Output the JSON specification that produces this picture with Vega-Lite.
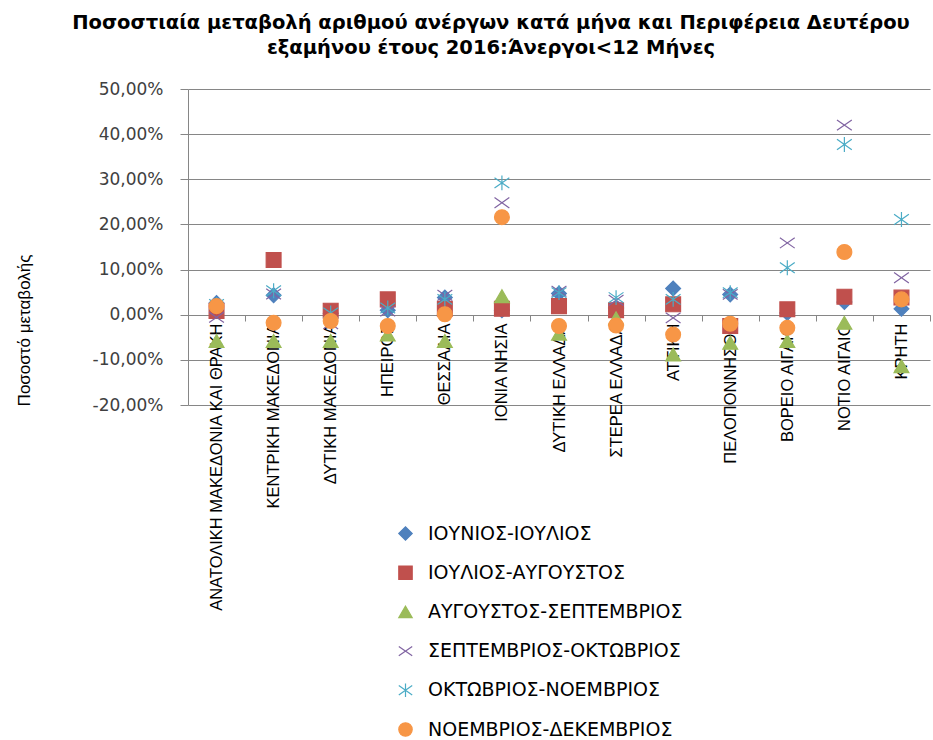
{
  "$schema": "https://vega.github.io/schema/vega-lite/v6.json",
  "width": 742,
  "height": 316,
  "autosize": {"type": "none"},
  "padding": {"left": 188, "top": 89, "right": 3, "bottom": 335},
  "background": "white",
  "title": {
    "text": ["Ποσοστιαία μεταβολή αριθμού ανέργων κατά μήνα και Περιφέρεια Δευτέρου", "εξαμήνου έτους 2016:Άνεργοι<12 Μήνες"],
    "font": "DejaVu Sans",
    "fontSize": 19.5,
    "fontWeight": "bold",
    "color": "#000000",
    "anchor": "middle",
    "dx": -68,
    "offset": 22,
    "lineHeight": 25
  },
  "data": {
    "values": [
      {"region": "ΑΝΑΤΟΛΙΚΗ ΜΑΚΕΔΟΝΙΑ ΚΑΙ ΘΡΑΚΗ", "series": "ΙΟΥΝΙΟΣ-ΙΟΥΛΙΟΣ", "value": 0.026},
      {"region": "ΚΕΝΤΡΙΚΗ ΜΑΚΕΔΟΝΙΑ", "series": "ΙΟΥΝΙΟΣ-ΙΟΥΛΙΟΣ", "value": 0.043},
      {"region": "ΔΥΤΙΚΗ ΜΑΚΕΔΟΝΙΑ", "series": "ΙΟΥΝΙΟΣ-ΙΟΥΛΙΟΣ", "value": 0.003},
      {"region": "ΗΠΕΙΡΟΣ", "series": "ΙΟΥΝΙΟΣ-ΙΟΥΛΙΟΣ", "value": 0.010},
      {"region": "ΘΕΣΣΑΛΙΑ", "series": "ΙΟΥΝΙΟΣ-ΙΟΥΛΙΟΣ", "value": 0.038},
      {"region": "ΙΟΝΙΑ ΝΗΣΙΑ", "series": "ΙΟΥΝΙΟΣ-ΙΟΥΛΙΟΣ", "value": 0.010},
      {"region": "ΔΥΤΙΚΗ ΕΛΛΑΔΑ", "series": "ΙΟΥΝΙΟΣ-ΙΟΥΛΙΟΣ", "value": 0.047},
      {"region": "ΣΤΕΡΕΑ ΕΛΛΑΔΑ", "series": "ΙΟΥΝΙΟΣ-ΙΟΥΛΙΟΣ", "value": 0.015},
      {"region": "ΑΤΤΙΚΗ", "series": "ΙΟΥΝΙΟΣ-ΙΟΥΛΙΟΣ", "value": 0.058},
      {"region": "ΠΕΛΟΠΟΝΝΗΣΟΣ", "series": "ΙΟΥΝΙΟΣ-ΙΟΥΛΙΟΣ", "value": 0.045},
      {"region": "ΒΟΡΕΙΟ ΑΙΓΑΙΟ", "series": "ΙΟΥΝΙΟΣ-ΙΟΥΛΙΟΣ", "value": 0.004},
      {"region": "ΝΟΤΙΟ ΑΙΓΑΙΟ", "series": "ΙΟΥΝΙΟΣ-ΙΟΥΛΙΟΣ", "value": 0.028},
      {"region": "ΚΡΗΤΗ", "series": "ΙΟΥΝΙΟΣ-ΙΟΥΛΙΟΣ", "value": 0.013},
      {"region": "ΑΝΑΤΟΛΙΚΗ ΜΑΚΕΔΟΝΙΑ ΚΑΙ ΘΡΑΚΗ", "series": "ΙΟΥΛΙΟΣ-ΑΥΓΟΥΣΤΟΣ", "value": 0.008},
      {"region": "ΚΕΝΤΡΙΚΗ ΜΑΚΕΔΟΝΙΑ", "series": "ΙΟΥΛΙΟΣ-ΑΥΓΟΥΣΤΟΣ", "value": 0.121},
      {"region": "ΔΥΤΙΚΗ ΜΑΚΕΔΟΝΙΑ", "series": "ΙΟΥΛΙΟΣ-ΑΥΓΟΥΣΤΟΣ", "value": 0.009},
      {"region": "ΗΠΕΙΡΟΣ", "series": "ΙΟΥΛΙΟΣ-ΑΥΓΟΥΣΤΟΣ", "value": 0.034},
      {"region": "ΘΕΣΣΑΛΙΑ", "series": "ΙΟΥΛΙΟΣ-ΑΥΓΟΥΣΤΟΣ", "value": 0.013},
      {"region": "ΙΟΝΙΑ ΝΗΣΙΑ", "series": "ΙΟΥΛΙΟΣ-ΑΥΓΟΥΣΤΟΣ", "value": 0.013},
      {"region": "ΔΥΤΙΚΗ ΕΛΛΑΔΑ", "series": "ΙΟΥΛΙΟΣ-ΑΥΓΟΥΣΤΟΣ", "value": 0.019},
      {"region": "ΣΤΕΡΕΑ ΕΛΛΑΔΑ", "series": "ΙΟΥΛΙΟΣ-ΑΥΓΟΥΣΤΟΣ", "value": 0.010},
      {"region": "ΑΤΤΙΚΗ", "series": "ΙΟΥΛΙΟΣ-ΑΥΓΟΥΣΤΟΣ", "value": 0.023},
      {"region": "ΠΕΛΟΠΟΝΝΗΣΟΣ", "series": "ΙΟΥΛΙΟΣ-ΑΥΓΟΥΣΤΟΣ", "value": -0.025},
      {"region": "ΒΟΡΕΙΟ ΑΙΓΑΙΟ", "series": "ΙΟΥΛΙΟΣ-ΑΥΓΟΥΣΤΟΣ", "value": 0.012},
      {"region": "ΝΟΤΙΟ ΑΙΓΑΙΟ", "series": "ΙΟΥΛΙΟΣ-ΑΥΓΟΥΣΤΟΣ", "value": 0.040},
      {"region": "ΚΡΗΤΗ", "series": "ΙΟΥΛΙΟΣ-ΑΥΓΟΥΣΤΟΣ", "value": 0.038},
      {"region": "ΑΝΑΤΟΛΙΚΗ ΜΑΚΕΔΟΝΙΑ ΚΑΙ ΘΡΑΚΗ", "series": "ΑΥΓΟΥΣΤΟΣ-ΣΕΠΤΕΜΒΡΙΟΣ", "value": -0.058},
      {"region": "ΚΕΝΤΡΙΚΗ ΜΑΚΕΔΟΝΙΑ", "series": "ΑΥΓΟΥΣΤΟΣ-ΣΕΠΤΕΜΒΡΙΟΣ", "value": -0.058},
      {"region": "ΔΥΤΙΚΗ ΜΑΚΕΔΟΝΙΑ", "series": "ΑΥΓΟΥΣΤΟΣ-ΣΕΠΤΕΜΒΡΙΟΣ", "value": -0.058},
      {"region": "ΗΠΕΙΡΟΣ", "series": "ΑΥΓΟΥΣΤΟΣ-ΣΕΠΤΕΜΒΡΙΟΣ", "value": -0.044},
      {"region": "ΘΕΣΣΑΛΙΑ", "series": "ΑΥΓΟΥΣΤΟΣ-ΣΕΠΤΕΜΒΡΙΟΣ", "value": -0.058},
      {"region": "ΙΟΝΙΑ ΝΗΣΙΑ", "series": "ΑΥΓΟΥΣΤΟΣ-ΣΕΠΤΕΜΒΡΙΟΣ", "value": 0.041},
      {"region": "ΔΥΤΙΚΗ ΕΛΛΑΔΑ", "series": "ΑΥΓΟΥΣΤΟΣ-ΣΕΠΤΕΜΒΡΙΟΣ", "value": -0.042},
      {"region": "ΣΤΕΡΕΑ ΕΛΛΑΔΑ", "series": "ΑΥΓΟΥΣΤΟΣ-ΣΕΠΤΕΜΒΡΙΟΣ", "value": -0.008},
      {"region": "ΑΤΤΙΚΗ", "series": "ΑΥΓΟΥΣΤΟΣ-ΣΕΠΤΕΜΒΡΙΟΣ", "value": -0.088},
      {"region": "ΠΕΛΟΠΟΝΝΗΣΟΣ", "series": "ΑΥΓΟΥΣΤΟΣ-ΣΕΠΤΕΜΒΡΙΟΣ", "value": -0.062},
      {"region": "ΒΟΡΕΙΟ ΑΙΓΑΙΟ", "series": "ΑΥΓΟΥΣΤΟΣ-ΣΕΠΤΕΜΒΡΙΟΣ", "value": -0.058},
      {"region": "ΝΟΤΙΟ ΑΙΓΑΙΟ", "series": "ΑΥΓΟΥΣΤΟΣ-ΣΕΠΤΕΜΒΡΙΟΣ", "value": -0.018},
      {"region": "ΚΡΗΤΗ", "series": "ΑΥΓΟΥΣΤΟΣ-ΣΕΠΤΕΜΒΡΙΟΣ", "value": -0.114},
      {"region": "ΑΝΑΤΟΛΙΚΗ ΜΑΚΕΔΟΝΙΑ ΚΑΙ ΘΡΑΚΗ", "series": "ΣΕΠΤΕΜΒΡΙΟΣ-ΟΚΤΩΒΡΙΟΣ", "value": -0.006},
      {"region": "ΚΕΝΤΡΙΚΗ ΜΑΚΕΔΟΝΙΑ", "series": "ΣΕΠΤΕΜΒΡΙΟΣ-ΟΚΤΩΒΡΙΟΣ", "value": 0.046},
      {"region": "ΔΥΤΙΚΗ ΜΑΚΕΔΟΝΙΑ", "series": "ΣΕΠΤΕΜΒΡΙΟΣ-ΟΚΤΩΒΡΙΟΣ", "value": -0.020},
      {"region": "ΗΠΕΙΡΟΣ", "series": "ΣΕΠΤΕΜΒΡΙΟΣ-ΟΚΤΩΒΡΙΟΣ", "value": 0.008},
      {"region": "ΘΕΣΣΑΛΙΑ", "series": "ΣΕΠΤΕΜΒΡΙΟΣ-ΟΚΤΩΒΡΙΟΣ", "value": 0.043},
      {"region": "ΙΟΝΙΑ ΝΗΣΙΑ", "series": "ΣΕΠΤΕΜΒΡΙΟΣ-ΟΚΤΩΒΡΙΟΣ", "value": 0.248},
      {"region": "ΔΥΤΙΚΗ ΕΛΛΑΔΑ", "series": "ΣΕΠΤΕΜΒΡΙΟΣ-ΟΚΤΩΒΡΙΟΣ", "value": 0.052},
      {"region": "ΣΤΕΡΕΑ ΕΛΛΑΔΑ", "series": "ΣΕΠΤΕΜΒΡΙΟΣ-ΟΚΤΩΒΡΙΟΣ", "value": 0.032},
      {"region": "ΑΤΤΙΚΗ", "series": "ΣΕΠΤΕΜΒΡΙΟΣ-ΟΚΤΩΒΡΙΟΣ", "value": -0.007},
      {"region": "ΠΕΛΟΠΟΝΝΗΣΟΣ", "series": "ΣΕΠΤΕΜΒΡΙΟΣ-ΟΚΤΩΒΡΙΟΣ", "value": 0.045},
      {"region": "ΒΟΡΕΙΟ ΑΙΓΑΙΟ", "series": "ΣΕΠΤΕΜΒΡΙΟΣ-ΟΚΤΩΒΡΙΟΣ", "value": 0.159},
      {"region": "ΝΟΤΙΟ ΑΙΓΑΙΟ", "series": "ΣΕΠΤΕΜΒΡΙΟΣ-ΟΚΤΩΒΡΙΟΣ", "value": 0.420},
      {"region": "ΚΡΗΤΗ", "series": "ΣΕΠΤΕΜΒΡΙΟΣ-ΟΚΤΩΒΡΙΟΣ", "value": 0.082},
      {"region": "ΑΝΑΤΟΛΙΚΗ ΜΑΚΕΔΟΝΙΑ ΚΑΙ ΘΡΑΚΗ", "series": "ΟΚΤΩΒΡΙΟΣ-ΝΟΕΜΒΡΙΟΣ", "value": 0.023},
      {"region": "ΚΕΝΤΡΙΚΗ ΜΑΚΕΔΟΝΙΑ", "series": "ΟΚΤΩΒΡΙΟΣ-ΝΟΕΜΒΡΙΟΣ", "value": 0.053},
      {"region": "ΔΥΤΙΚΗ ΜΑΚΕΔΟΝΙΑ", "series": "ΟΚΤΩΒΡΙΟΣ-ΝΟΕΜΒΡΙΟΣ", "value": 0.004},
      {"region": "ΗΠΕΙΡΟΣ", "series": "ΟΚΤΩΒΡΙΟΣ-ΝΟΕΜΒΡΙΟΣ", "value": 0.015},
      {"region": "ΘΕΣΣΑΛΙΑ", "series": "ΟΚΤΩΒΡΙΟΣ-ΝΟΕΜΒΡΙΟΣ", "value": 0.034},
      {"region": "ΙΟΝΙΑ ΝΗΣΙΑ", "series": "ΟΚΤΩΒΡΙΟΣ-ΝΟΕΜΒΡΙΟΣ", "value": 0.292},
      {"region": "ΔΥΤΙΚΗ ΕΛΛΑΔΑ", "series": "ΟΚΤΩΒΡΙΟΣ-ΝΟΕΜΒΡΙΟΣ", "value": 0.049},
      {"region": "ΣΤΕΡΕΑ ΕΛΛΑΔΑ", "series": "ΟΚΤΩΒΡΙΟΣ-ΝΟΕΜΒΡΙΟΣ", "value": 0.038},
      {"region": "ΑΤΤΙΚΗ", "series": "ΟΚΤΩΒΡΙΟΣ-ΝΟΕΜΒΡΙΟΣ", "value": 0.034},
      {"region": "ΠΕΛΟΠΟΝΝΗΣΟΣ", "series": "ΟΚΤΩΒΡΙΟΣ-ΝΟΕΜΒΡΙΟΣ", "value": 0.049},
      {"region": "ΒΟΡΕΙΟ ΑΙΓΑΙΟ", "series": "ΟΚΤΩΒΡΙΟΣ-ΝΟΕΜΒΡΙΟΣ", "value": 0.104},
      {"region": "ΝΟΤΙΟ ΑΙΓΑΙΟ", "series": "ΟΚΤΩΒΡΙΟΣ-ΝΟΕΜΒΡΙΟΣ", "value": 0.377},
      {"region": "ΚΡΗΤΗ", "series": "ΟΚΤΩΒΡΙΟΣ-ΝΟΕΜΒΡΙΟΣ", "value": 0.211},
      {"region": "ΑΝΑΤΟΛΙΚΗ ΜΑΚΕΔΟΝΙΑ ΚΑΙ ΘΡΑΚΗ", "series": "ΝΟΕΜΒΡΙΟΣ-ΔΕΚΕΜΒΡΙΟΣ", "value": 0.019},
      {"region": "ΚΕΝΤΡΙΚΗ ΜΑΚΕΔΟΝΙΑ", "series": "ΝΟΕΜΒΡΙΟΣ-ΔΕΚΕΜΒΡΙΟΣ", "value": -0.018},
      {"region": "ΔΥΤΙΚΗ ΜΑΚΕΔΟΝΙΑ", "series": "ΝΟΕΜΒΡΙΟΣ-ΔΕΚΕΜΒΡΙΟΣ", "value": -0.014},
      {"region": "ΗΠΕΙΡΟΣ", "series": "ΝΟΕΜΒΡΙΟΣ-ΔΕΚΕΜΒΡΙΟΣ", "value": -0.025},
      {"region": "ΘΕΣΣΑΛΙΑ", "series": "ΝΟΕΜΒΡΙΟΣ-ΔΕΚΕΜΒΡΙΟΣ", "value": 0.001},
      {"region": "ΙΟΝΙΑ ΝΗΣΙΑ", "series": "ΝΟΕΜΒΡΙΟΣ-ΔΕΚΕΜΒΡΙΟΣ", "value": 0.216},
      {"region": "ΔΥΤΙΚΗ ΕΛΛΑΔΑ", "series": "ΝΟΕΜΒΡΙΟΣ-ΔΕΚΕΜΒΡΙΟΣ", "value": -0.025},
      {"region": "ΣΤΕΡΕΑ ΕΛΛΑΔΑ", "series": "ΝΟΕΜΒΡΙΟΣ-ΔΕΚΕΜΒΡΙΟΣ", "value": -0.024},
      {"region": "ΑΤΤΙΚΗ", "series": "ΝΟΕΜΒΡΙΟΣ-ΔΕΚΕΜΒΡΙΟΣ", "value": -0.044},
      {"region": "ΠΕΛΟΠΟΝΝΗΣΟΣ", "series": "ΝΟΕΜΒΡΙΟΣ-ΔΕΚΕΜΒΡΙΟΣ", "value": -0.020},
      {"region": "ΒΟΡΕΙΟ ΑΙΓΑΙΟ", "series": "ΝΟΕΜΒΡΙΟΣ-ΔΕΚΕΜΒΡΙΟΣ", "value": -0.029},
      {"region": "ΝΟΤΙΟ ΑΙΓΑΙΟ", "series": "ΝΟΕΜΒΡΙΟΣ-ΔΕΚΕΜΒΡΙΟΣ", "value": 0.139},
      {"region": "ΚΡΗΤΗ", "series": "ΝΟΕΜΒΡΙΟΣ-ΔΕΚΕΜΒΡΙΟΣ", "value": 0.034}
    ]
  },
  "mark": {"type": "point", "filled": true, "opacity": 1, "size": 220, "strokeWidth": 1.2},
  "encoding": {
    "x": {
      "field": "region",
      "type": "nominal",
      "sort": null,
      "scale": {"paddingInner": 0, "paddingOuter": 0},
      "axis": {
        "title": null,
        "offset": -90,
        "labelAngle": -90,
        "labelAlign": "right",
        "labelBaseline": "middle",
        "labelFont": "Liberation Sans",
        "labelFontSize": 16.5,
        "labelColor": "#000000",
        "labelLimit": 400,
        "labelPadding": 2,
        "tickBand": "extent",
        "tickSize": 6,
        "tickColor": "#868686",
        "domainColor": "#868686",
        "grid": false
      }
    },
    "y": {
      "field": "value",
      "type": "quantitative",
      "scale": {"domain": [-0.2, 0.5], "nice": false, "zero": false},
      "axis": {
        "title": "Ποσοστό μεταβολής",
        "titleFont": "Liberation Sans",
        "titleFontSize": 17,
        "titleFontWeight": "normal",
        "titleColor": "#000000",
        "titleX": -164,
        "titleY": 241,
        "titleAngle": -90,
        "titleAlign": "center",
        "titleBaseline": "middle",
        "values": [-0.2, -0.1, 0, 0.1, 0.2, 0.3, 0.4, 0.5],
        "labelExpr": "replace(replace(format(datum.value, '.2%'), '.', ','), '−', '-')",
        "labelFont": "DejaVu Sans",
        "labelFontSize": 17,
        "labelColor": "#404040",
        "labelPadding": 17,
        "tickSize": 8,
        "tickColor": "#868686",
        "domainColor": "#868686",
        "gridColor": "#868686",
        "grid": true
      }
    },
    "shape": {
      "field": "series",
      "type": "nominal",
      "sort": null,
      "scale": {
        "domain": ["ΙΟΥΝΙΟΣ-ΙΟΥΛΙΟΣ", "ΙΟΥΛΙΟΣ-ΑΥΓΟΥΣΤΟΣ", "ΑΥΓΟΥΣΤΟΣ-ΣΕΠΤΕΜΒΡΙΟΣ", "ΣΕΠΤΕΜΒΡΙΟΣ-ΟΚΤΩΒΡΙΟΣ", "ΟΚΤΩΒΡΙΟΣ-ΝΟΕΜΒΡΙΟΣ", "ΝΟΕΜΒΡΙΟΣ-ΔΕΚΕΜΒΡΙΟΣ"],
        "range": ["diamond", "square", "triangle-up", "M-1,-0.7L1,0.7M-1,0.7L1,-0.7", "M-1,-0.7L1,0.7M-1,0.7L1,-0.7M0,-1L0,1", "circle"]
      },
      "legend": {
        "orient": "none",
        "legendX": 208,
        "legendY": 435,
        "title": null,
        "labelFont": "DejaVu Sans",
        "labelFontSize": 19,
        "labelColor": "#000000",
        "labelOffset": 13,
        "symbolSize": 180,
        "symbolStrokeWidth": 1.2,
        "rowPadding": 19.2,
        "labelLimit": 400
      }
    },
    "fill": {
      "field": "series",
      "type": "nominal",
      "sort": null,
      "scale": {
        "domain": ["ΙΟΥΝΙΟΣ-ΙΟΥΛΙΟΣ", "ΙΟΥΛΙΟΣ-ΑΥΓΟΥΣΤΟΣ", "ΑΥΓΟΥΣΤΟΣ-ΣΕΠΤΕΜΒΡΙΟΣ", "ΣΕΠΤΕΜΒΡΙΟΣ-ΟΚΤΩΒΡΙΟΣ", "ΟΚΤΩΒΡΙΟΣ-ΝΟΕΜΒΡΙΟΣ", "ΝΟΕΜΒΡΙΟΣ-ΔΕΚΕΜΒΡΙΟΣ"],
        "range": ["#4F81BD", "#C0504D", "#9BBB59", "#8064A2", "#4BACC6", "#F79646"]
      }
    },
    "stroke": {
      "field": "series",
      "type": "nominal",
      "sort": null,
      "scale": {
        "domain": ["ΙΟΥΝΙΟΣ-ΙΟΥΛΙΟΣ", "ΙΟΥΛΙΟΣ-ΑΥΓΟΥΣΤΟΣ", "ΑΥΓΟΥΣΤΟΣ-ΣΕΠΤΕΜΒΡΙΟΣ", "ΣΕΠΤΕΜΒΡΙΟΣ-ΟΚΤΩΒΡΙΟΣ", "ΟΚΤΩΒΡΙΟΣ-ΝΟΕΜΒΡΙΟΣ", "ΝΟΕΜΒΡΙΟΣ-ΔΕΚΕΜΒΡΙΟΣ"],
        "range": ["#4F81BD", "#C0504D", "#9BBB59", "#8064A2", "#4BACC6", "#F79646"]
      }
    }
  },
  "config": {
    "view": {"stroke": null}
  }
}
